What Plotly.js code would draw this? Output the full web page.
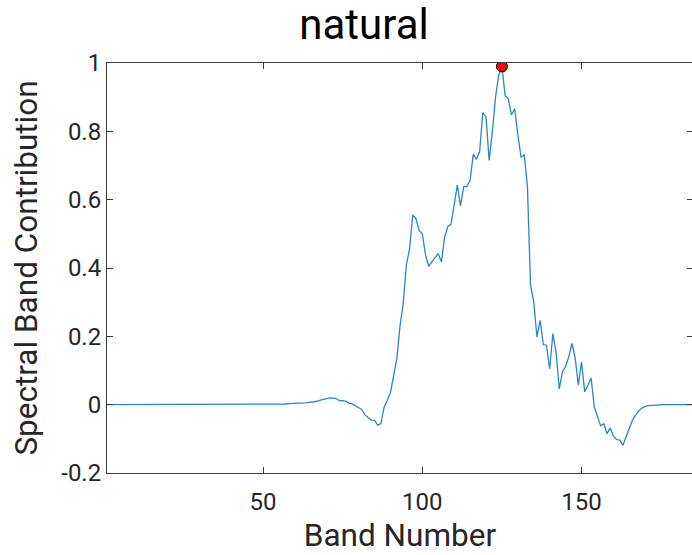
<!DOCTYPE html>
<html><head><meta charset="utf-8">
<script src="https://cdn.plot.ly/plotly-3.0.1.min.js"></script>
<style>html,body{margin:0;padding:0;overflow:hidden;background:#fff}</style>
</head><body><div id="chart"></div>
<script>
const bands = [1,2,3,4,5,6,7,8,9,10,11,12,13,14,15,16,17,18,19,20,21,22,23,24,25,26,27,28,29,30,
31,32,33,34,35,36,37,38,39,40,41,42,43,44,45,46,47,48,49,50,51,52,53,54,55,56,57,58,59,60,
61,62,63,64,65,66,67,68,69,70,71,72,73,74,75,76,77,78,79,80,81,82,83,84,85,86,87,88,89,90,
91,92,93,94,95,96,97,98,99,100,101,102,103,104,105,106,107,108,109,110,111,112,113,114,115,116,117,118,119,120,
121,122,123,124,125,126,127,128,129,130,131,132,133,134,135,136,137,138,139,140,141,142,143,144,145,146,147,148,149,150,
151,152,153,154,155,156,157,158,159,160,161,162,163,164,165,166,167,168,169,170,171,172,173,174,175,176,177,178,179,180,
181,182,183,184,185];
const contribution = [0,0,0,0,0,0,0,0,0,0,0,0,0,0,0,0,0,0,0,0,0,0,0,0,0,0,0,0,0,0,
0,0,0,0,0,0,0,0,0,0,0,0,0,0,0,0,0,0,0,0,0,0,0,0,0,0,
0.002,0.003,0.003,0.004,0.004,0.005,0.005,0.006,0.007,0.007,0.010,0.013,0.016,0.019,0.020,0.019,0.018,0.011,0.012,0.010,
0.004,0.002,-0.003,-0.010,-0.014,-0.030,-0.038,-0.045,-0.046,-0.060,-0.055,-0.008,0.013,0.035,
0.085,0.135,0.230,0.295,0.410,0.455,0.555,0.545,0.510,0.500,
0.440,0.405,0.418,0.430,0.442,0.418,0.490,0.522,0.527,0.585,
0.643,0.582,0.638,0.638,0.656,0.733,0.718,0.740,0.855,0.842,
0.715,0.800,0.900,0.965,0.990,0.905,0.895,0.848,0.866,0.790,
0.725,0.731,0.640,0.349,0.300,0.198,0.247,0.176,0.174,0.105,
0.208,0.154,0.046,0.096,0.112,0.140,0.179,0.137,0.057,0.125,
0.037,0.057,0.078,-0.007,-0.036,-0.062,-0.056,-0.085,-0.068,-0.092,
-0.102,-0.104,-0.119,-0.095,-0.068,-0.045,-0.030,-0.018,-0.010,-0.005,
-0.003,-0.002,-0.001,0,0,0,0,0,0,0,0,0,0,0,0];
const peakBand = [125];
const peakValue = [0.990];
const yTickVals = [-0.2,0,0.2,0.4,0.6,0.8,1];
const yTickText = ['-0.2','0','0.2','0.4','0.6','0.8','1'];
const xTickVals = [50,100,150];
const xTickText = ['50','100','150'];

const axisColor = '#3a3a3a';
const tickFont = {family:'Roboto', size:24, color:'#262626'};
const titleFont = {family:'Roboto', size:31.5, color:'#262626'};
const traces = [
  {x:bands, y:contribution, type:'scatter', mode:'lines',
   line:{color:'#2a85cc', width:1.3}, hoverinfo:'skip'},
  {x:peakBand, y:peakValue, type:'scatter', mode:'markers',
   marker:{color:'#ff0000', size:11, line:{color:'#000', width:1}}, hoverinfo:'skip'}
];
const layout = {
  width:694, height:555,
  margin:{l:107, r:1, t:63, b:82},
  paper_bgcolor:'#fff', plot_bgcolor:'#fff',
  showlegend:false,
  title:{text:'natural', font:{family:'Roboto', size:42, color:'#000'},
    xref:'container', x:364/694, xanchor:'center', yref:'container', y:0.982, yanchor:'top'},
  xaxis:{range:[1,185], tickvals:xTickVals, ticktext:xTickText,
    showline:true, mirror:'ticks', linecolor:axisColor, linewidth:1,
    ticks:'inside', ticklen:6, tickcolor:axisColor, tickfont:tickFont,
    ticklabelstandoff:7,
    showgrid:false, zeroline:false,
    title:{text:'Band Number', font:titleFont, standoff:9}},
  yaxis:{range:[-0.2,1], tickvals:yTickVals, ticktext:yTickText,
    showline:true, mirror:'ticks', linecolor:axisColor, linewidth:1,
    ticks:'inside', ticklen:6, tickcolor:axisColor, tickfont:tickFont,
    showgrid:false, zeroline:false,
    title:{text:'Spectral Band Contribution', font:titleFont, standoff:14}}
};
Plotly.newPlot('chart', traces, layout, {displayModeBar:false, staticPlot:true});
</script>
</body></html>
